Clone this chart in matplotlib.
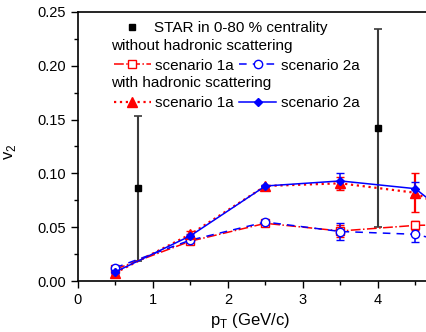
import matplotlib
matplotlib.use("Agg")
import matplotlib.pyplot as plt
from matplotlib.lines import Line2D
from matplotlib.ticker import MultipleLocator, FixedLocator, FormatStrFormatter

plt.rcParams['font.family'] = ['Liberation Sans', 'DejaVu Sans']

# STAR data
star_pt = [0.8, 4.0]
star_v2 = [0.086, 0.142]
star_err = [0.067, 0.092]

# model points
pt = [0.5, 1.5, 2.5, 3.5, 4.5, 5.5]
# without hadronic scattering
v2_1a_wo = [0.011, 0.037, 0.0536, 0.0465, 0.0517, 0.053]
err_1a_wo = [0.002, 0.002, 0.001, 0.006, 0.004, 0.004]
v2_2a_wo = [0.0124, 0.038, 0.0548, 0.046, 0.0434, 0.027]
err_2a_wo = [0.002, 0.002, 0.001, 0.008, 0.0075, 0.006]
# with hadronic scattering
v2_1a_w = [0.0077, 0.0434, 0.0883, 0.0908, 0.082, 0.045]
err_1a_w = [0.002, 0.003, 0.001, 0.006, 0.018, 0.01]
v2_2a_w = [0.0085, 0.042, 0.0883, 0.093, 0.0858, 0.031]
err_2a_w = [0.002, 0.002, 0.001, 0.007, 0.006, 0.006]

x_ticks = [0, 1, 2, 3, 4]

fig = plt.figure(figsize=(4.26, 3.32), dpi=100)
ax = fig.add_axes([0.183, 0.1536, 0.880, 0.8103])

ax.errorbar(star_pt, star_v2, yerr=star_err, fmt='s', color='black', ecolor='#3a3a3a',
            ms=5, elinewidth=1.5, capsize=3, capthick=1.2, zorder=3)

ax.errorbar(pt, v2_1a_wo, yerr=err_1a_wo, fmt='s', ls='-.', color='red', mfc='white',
            mec='red', ms=6, lw=1.1, capsize=3, zorder=4)
ax.errorbar(pt, v2_2a_wo, yerr=err_2a_wo, fmt='o', ls=(0, (5, 4)), color='blue', mfc='white',
            mec='blue', ms=6, lw=1.1, capsize=3, zorder=4)
ax.errorbar(pt, v2_1a_w, yerr=err_1a_w, fmt='^', ls=':', color='red',
            ms=6.5, lw=1.6, capsize=3, zorder=5)
ax.errorbar(pt, v2_2a_w, yerr=err_2a_w, fmt='D', ls='-', color='blue',
            ms=4.5, lw=1.1, capsize=3, zorder=5)

ax.set_xlim(0, 5)
ax.set_ylim(0, 0.25)
ax.xaxis.set_major_locator(FixedLocator(x_ticks))
ax.xaxis.set_minor_locator(MultipleLocator(0.5))
ax.yaxis.set_major_locator(MultipleLocator(0.05))
ax.yaxis.set_minor_locator(MultipleLocator(0.025))
ax.yaxis.set_major_formatter(FormatStrFormatter('%.2f'))
ax.tick_params(which='major', direction='out', length=5, width=1, labelsize=10.5)
ax.tick_params(which='minor', direction='out', length=3, width=1)
for s in ax.spines.values():
    s.set_linewidth(1.2)

ax.set_xlabel('p$_\\mathregular{T}$ (GeV/c)', fontsize=12)
ax.set_ylabel('v$_\\mathregular{2}$', fontsize=12)
ax.xaxis.set_label_coords(0.459, -0.11)
ax.yaxis.set_label_coords(-0.16, 0.48)

# legend
fs = 11
h_star = Line2D([], [], ls='none', marker='s', color='black', ms=5)
leg1 = ax.legend([h_star], ['STAR in 0-80 % centrality'], loc='upper left', frameon=False,
                 bbox_to_anchor=(0.075, 1.005), fontsize=fs, handlelength=2.0,
                 borderaxespad=0.3, handletextpad=0.45)
ax.add_artist(leg1)
ax.text(0.089, 0.873, 'without hadronic scattering', transform=ax.transAxes,
        fontsize=fs, va='center', ha='left')
h1 = Line2D([], [], ls='-.', marker='s', color='red', mfc='white', ms=6, lw=1.1)
h2 = Line2D([], [], ls=(0, (5, 4)), marker='o', color='blue', mfc='white', ms=6, lw=1.1)
leg2 = ax.legend([h1, h2], ['scenario 1a', 'scenario 2a'], loc='center left', frameon=False,
                 bbox_to_anchor=(0.08, 0.80), fontsize=fs, ncol=2, handlelength=2.4,
                 borderaxespad=0.0, handletextpad=0.3, columnspacing=0.35)
ax.add_artist(leg2)
ax.text(0.089, 0.735, 'with hadronic scattering', transform=ax.transAxes,
        fontsize=fs, va='center', ha='left')
h3 = Line2D([], [], ls=':', marker='^', color='red', ms=6.5, lw=1.6)
h4 = Line2D([], [], ls='-', marker='D', color='blue', ms=4.5, lw=1.1)
ax.legend([h3, h4], ['scenario 1a', 'scenario 2a'], loc='center left', frameon=False,
          bbox_to_anchor=(0.08, 0.66), fontsize=fs, ncol=2, handlelength=2.4,
          borderaxespad=0.0, handletextpad=0.3, columnspacing=0.35)

fig.savefig('out.png', dpi=100)
